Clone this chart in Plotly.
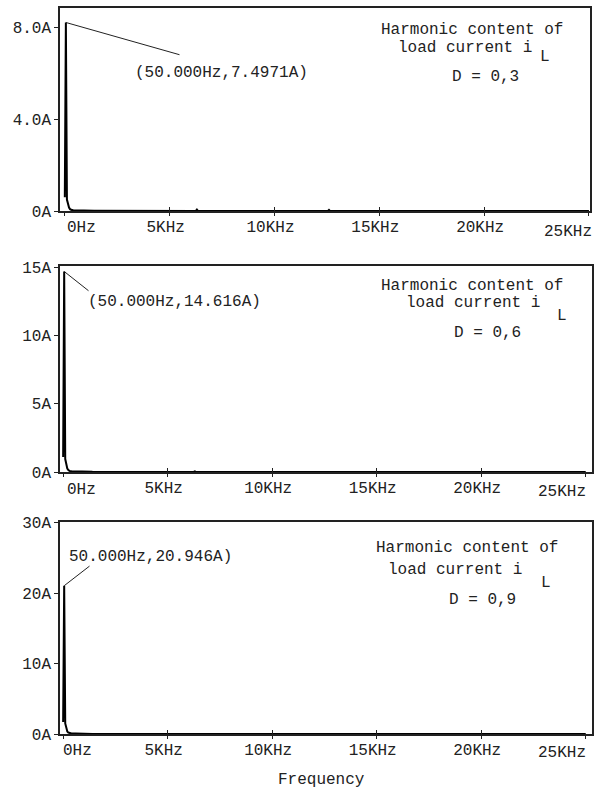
import plotly.graph_objects as go

# ---- data ----
freq = [0, 50, 100, 150, 200, 250, 300, 400, 600, 1000, 1400, 6250, 6300, 6350, 12550, 12600, 12650, 25000]
amp_d03 = [0.6, 8.2, 0.5, 0.26, 0.15, 0.08, 0.05, 0.03, 0.02, 0.015, 0.01, 0.005, 0.06, 0.005, 0.005, 0.05, 0.005, 0.0]
amp_d06 = [1.1, 14.7, 0.95, 0.45, 0.25, 0.14, 0.08, 0.05, 0.035, 0.025, 0.01, 0.005, 0.05, 0.005, 0.005, 0.05, 0.005, 0.0]
amp_d09 = [1.7, 21.05, 1.5, 0.7, 0.35, 0.2, 0.12, 0.08, 0.06, 0.05, 0.01, 0.005, 0.03, 0.005, 0.005, 0.03, 0.005, 0.0]

duty_labels = ["D = 0,3", "D = 0,6", "D = 0,9"]
peak_labels = ["(50.000Hz,7.4971A)", "(50.000Hz,14.616A)", "50.000Hz,20.946A)"]

x_tickvals = [0, 5000, 10000, 15000, 20000, 25000]
x_ticktext = ["", "5KHz", "10KHz", "15KHz", "20KHz", ""]
first_x_label = "0Hz"
last_x_label = "25KHz"
y_tickvals = [[0, 4, 8], [0, 5, 10, 15], [0, 10, 20, 30]]
y_ticktext = [["0A", "4.0A", "8.0A"], ["0A", "5A", "10A", "15A"], ["0A", "10A", "20A", "30A"]]

# ---- layout geometry ----
W, H = 603, 791
ML, MR, MT, MB = 60, 11, 8, 57
PW, PH = W - ML - MR, H - MT - MB

def px(x):
    return (x - ML) / PW

def py(y):
    return (H - MB - y) / PH

FONT = "Liberation Mono, Courier New, monospace"
TXT = "#222222"

fig = go.Figure()
amps = [amp_d03, amp_d06, amp_d09]
for i, a in enumerate(amps):
    fig.add_trace(go.Scatter(
        x=freq, y=a, mode="lines",
        line=dict(color="black", width=2),
        xaxis=f"x{i+1}" if i else "x", yaxis=f"y{i+1}" if i else "y",
        showlegend=False, hoverinfo="skip"))

panels = [
    dict(top=8, bottom=211, left=60, right=590, xr=[-230, 25050], yr=[0, 8.83]),
    dict(top=266, bottom=472, left=60, right=592, xr=[-150, 25300], yr=[0, 15.1]),
    dict(top=522, bottom=734, left=60, right=592, xr=[-150, 25300], yr=[0, 30.1]),
]

axis_common = dict(
    showgrid=False, zeroline=False, showline=True, mirror=True, automargin=False,
    linecolor="#222222", linewidth=1.5,
    tickcolor="#222222", tickwidth=1, ticklabeloverflow="allow",
    tickfont=dict(family=FONT, size=16, color=TXT),
)

layout = dict(
    width=W, height=H, margin=dict(l=ML, r=MR, t=MT, b=MB, autoexpand=False),
    paper_bgcolor="white", plot_bgcolor="white", showlegend=False,
)
for i, p in enumerate(panels):
    xn = "xaxis" if i == 0 else f"xaxis{i+1}"
    yn = "yaxis" if i == 0 else f"yaxis{i+1}"
    xa = "x" if i == 0 else f"x{i+1}"
    ya = "y" if i == 0 else f"y{i+1}"
    layout[xn] = dict(axis_common, domain=[px(p["left"]), px(p["right"])], range=p["xr"],
                      anchor=ya, tickvals=x_tickvals, ticktext=x_ticktext,
                      ticks="inside", ticklen=4, ticklabelshift=-4,
                      minor=dict(tickvals=x_tickvals, ticks="outside", ticklen=3,
                                 tickcolor="#222222", tickwidth=1, showgrid=False))
    layout[yn] = dict(axis_common, domain=[py(p["bottom"]), py(p["top"])], range=p["yr"],
                      anchor=xa, tickvals=y_tickvals[i], ticktext=y_ticktext[i],
                      ticks="outside", ticklen=4)
fig.update_layout(**layout)

# arrow tails (data coords) for peak markers
tails = [(5541, 6.78), (1285, 13.2), (1333, 24.0)]
peak_text_pos = [(133, 73), (86, 302), (67, 557)]
first_label_pos = [(81, 228), (81, 490), (77, 751)]
last_label_pos = [(568, 232), (562, 492), (562, 753)]
text_blocks = [
    [(379, 30, "Harmonic content of"), (396, 48, "load current i"), (538, 57, "L"), (450, 77, duty_labels[0])],
    [(379, 286, "Harmonic content of"), (404, 303, "load current i"), (555, 316, "L"), (452, 333, duty_labels[1])],
    [(374, 548, "Harmonic content of"), (386, 570, "load current i"), (539, 583, "L"), (447, 600, duty_labels[2])],
]

def label(x, y, t, anchor="left"):
    return dict(x=px(x), y=py(y), xref="paper", yref="paper", xanchor=anchor, yanchor="middle",
                text=t, showarrow=False, font=dict(family=FONT, size=16, color=TXT))

annotations = []
for i, a in enumerate(amps):
    xa = "x" if i == 0 else f"x{i+1}"
    ya = "y" if i == 0 else f"y{i+1}"
    pk = max(range(len(a)), key=lambda k: a[k])
    annotations.append(dict(
        x=freq[pk], y=a[pk], xref=xa, yref=ya,
        ax=tails[i][0], ay=tails[i][1], axref=xa, ayref=ya,
        text="", showarrow=True, arrowhead=0, arrowwidth=1, arrowcolor="#222222"))
    tx, ty = peak_text_pos[i]
    annotations.append(label(tx, ty, peak_labels[i]))
    for (bx, by, t) in text_blocks[i]:
        annotations.append(label(bx, by, t))
    annotations.append(label(*first_label_pos[i], first_x_label, "center"))
    annotations.append(label(*last_label_pos[i], last_x_label, "center"))

annotations.append(label(321, 780, "Frequency", "center"))

fig.update_layout(annotations=annotations)
fig.write_html("out.html", config={"displayModeBar": False},
               post_script="document.body.style.margin='0';document.body.style.overflow='hidden';")
